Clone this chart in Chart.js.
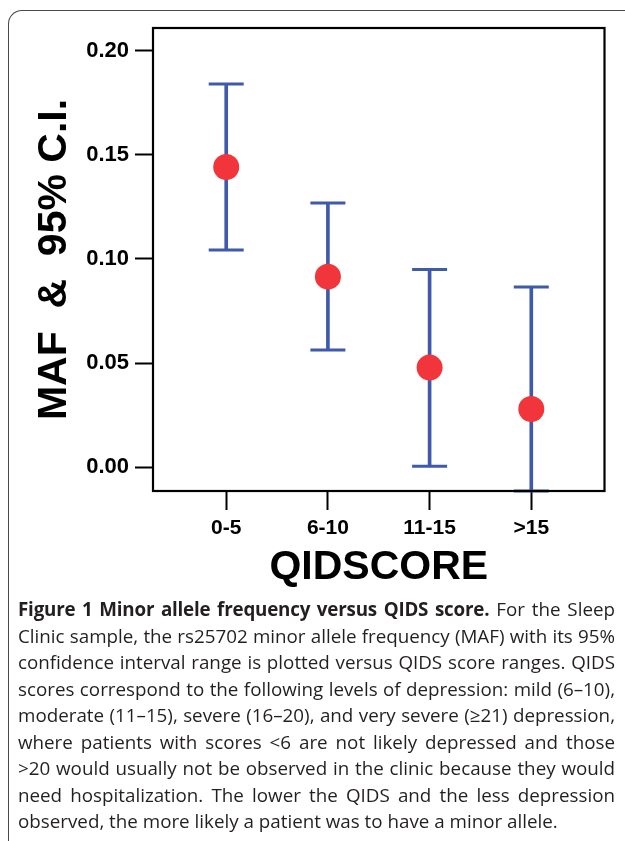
<!DOCTYPE html>
<html>
<head>
<meta charset="utf-8">
<script src="https://cdn.jsdelivr.net/npm/chart.js@4"></script>
<style>
  html, body { margin: 0; padding: 0; background: #fff; }
  body { width: 625px; height: 841px; position: relative; overflow: hidden; }
  #frame { position: absolute; left: 8px; top: 10px; width: 700px; height: 900px;
           border-left: 1.5px solid #4a4a4a; border-top: 1.5px solid #4a4a4a; border-top-left-radius: 14px; }
  #wrap { position: absolute; left: 0; top: 0; width: 625px; height: 600px; }
  #caption { position: absolute; left: 18px; top: 596px; width: 597px; font-family: "Open Sans", sans-serif;
             font-size: 18.8px; line-height: 26.55px; color: #231f20; }
  #caption div { white-space: nowrap; text-align: justify; text-align-last: justify; }
  #caption div.last { text-align: left; text-align-last: left; }
  #caption b { font-weight: 700; letter-spacing: -0.2px; }
</style>
</head>
<body>
<div id="frame"></div>
<div id="wrap"><canvas id="c" width="625" height="600"></canvas></div>
<div id="caption">
<div><b>Figure 1 Minor allele frequency versus QIDS score.</b> For the Sleep</div>
<div>Clinic sample, the rs25702 minor allele frequency (MAF) with its 95%</div>
<div>confidence interval range is plotted versus QIDS score ranges. QIDS</div>
<div>scores correspond to the following levels of depression: mild (6–10),</div>
<div>moderate (11–15), severe (16–20), and very severe (≥21) depression,</div>
<div>where patients with scores &lt;6 are not likely depressed and those</div>
<div>&gt;20 would usually not be observed in the clinic because they would</div>
<div>need hospitalization. The lower the QIDS and the less depression</div>
<div class="last">observed, the more likely a patient was to have a minor allele.</div>
</div>
<script>
const categories = ["0-5", "6-10", "11-15", ">15"];
const mafValues = [0.1442, 0.0915, 0.0478, 0.0279];
const ciLower = [0.1043, 0.0562, 0.0004, -0.0115];
const ciUpper = [0.1841, 0.1269, 0.0950, 0.0865];
const yTicks = [0.00, 0.05, 0.10, 0.15, 0.20];

const blue = "#3f5aab";
const red = "#f2353b";
const positions = categories.map((_, i) => i + 1);

const boxPlugin = {
  id: "box",
  afterDraw(chart) {
    const a = chart.chartArea, ctx = chart.ctx;
    ctx.save();
    ctx.strokeStyle = "#000";
    ctx.lineWidth = 2.2;
    ctx.strokeRect(a.left, a.top, a.right - a.left, a.bottom - a.top);
    ctx.restore();
  }
};

new Chart(document.getElementById("c"), {
  data: {
    datasets: [
      {
        type: "bar",
        data: positions.map((x, i) => ({ x: x, y: [ciLower[i], ciUpper[i]] })),
        backgroundColor: blue,
        borderWidth: 0,
        barThickness: 3,
        order: 3
      },
      {
        type: "scatter",
        data: positions.flatMap((x, i) => [{ x: x, y: ciLower[i] }, { x: x, y: ciUpper[i] }]),
        pointStyle: "line",
        pointRadius: 17.5,
        pointHoverRadius: 17.5,
        borderColor: blue,
        borderWidth: 3,
        clip: 2,
        order: 2
      },
      {
        type: "scatter",
        data: positions.map((x, i) => ({ x: x, y: mafValues[i] })),
        pointStyle: "circle",
        pointRadius: 13,
        pointHoverRadius: 13,
        backgroundColor: red,
        borderWidth: 0,
        order: 1
      }
    ]
  },
  options: {
    responsive: false,
    animation: false,
    devicePixelRatio: 1,
    layout: { padding: { top: 28, right: 17, left: 0, bottom: 0 } },
    plugins: { legend: { display: false }, tooltip: { enabled: false } },
    scales: {
      x: {
        type: "linear",
        min: 0.28,
        max: 4.72,
        offset: false,
        afterBuildTicks: s => { s.ticks = positions.map(v => ({ value: v })); },
        afterFit: s => { s.height = 109; },
        grid: { display: true, offset: false, drawOnChartArea: false, drawTicks: true, tickLength: 19, tickColor: "#000", tickWidth: 2 },
        border: { display: false },
        ticks: {
          callback: v => categories[v - 1],
          color: "#000",
          padding: 6,
          autoSkip: false,
          maxRotation: 0,
          font: { family: "Liberation Sans, Arial, sans-serif", size: 21, weight: "bold" }
        },
        title: {
          display: true,
          text: "QIDSCORE",
          color: "#000",
          padding: { top: 0, bottom: 8 },
          font: { family: "Liberation Sans, Arial, sans-serif", size: 41, weight: "bold" }
        }
      },
      y: {
        min: -0.0115,
        max: 0.211,
        afterBuildTicks: s => { s.ticks = yTicks.map(v => ({ value: v })); },
        afterFit: s => { s.width = 153; },
        grid: { display: true, drawOnChartArea: false, drawTicks: true, tickLength: 18, tickColor: "#000", tickWidth: 2 },
        border: { display: false },
        ticks: {
          callback: v => v.toFixed(2),
          color: "#000",
          padding: 6,
          font: { family: "Liberation Sans, Arial, sans-serif", size: 22, weight: "bold" }
        },
        title: {
          display: true,
          text: "MAF  &  95% C.I.",
          color: "#000",
          padding: { top: 30, bottom: 0 },
          font: { family: "Liberation Sans, Arial, sans-serif", size: 41, weight: "bold" }
        }
      }
    }
  },
  plugins: [boxPlugin]
});
</script>
</body>
</html>
